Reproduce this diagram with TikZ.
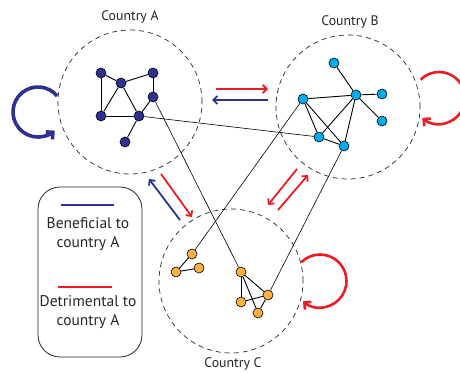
\documentclass[tikz,border=0pt]{standalone}
\usepackage{fontspec}
\setmainfont{PT Sans}
\usetikzlibrary{arrows.meta}
\definecolor{navyA}{RGB}{45,49,146}
\definecolor{cyanB}{RGB}{0,174,239}
\definecolor{orangeC}{RGB}{251,176,64}
\definecolor{redarr}{RGB}{237,28,36}
\tikzset{country/.style = {circle, draw=black!85, dash pattern=on 5pt off 4pt, line width=0.7pt, minimum size=144pt, inner sep=0pt}}
\tikzset{agent/.style = {circle, draw=black, line width=0.6pt, minimum size=10pt, inner sep=0pt}}
\tikzset{label text/.style = {font=\fontsize{13.8}{16}\selectfont, text=black!85}}
\tikzset{legend text/.style = {font=\fontsize{15.5}{19}\selectfont, text=black!85, align=center}}
\tikzset{good/.style = {navyA, line width=1.8pt, -{Straight Barb[length=4pt,width=8pt]}}}
\tikzset{bad/.style = {redarr, line width=1.8pt, -{Straight Barb[length=4pt,width=8pt]}}}
\tikzset{self loop/.style = {-{Straight Barb[length=5pt,width=10pt]}}}
\tikzset{tie/.style = {-, line width=0.6pt}}
\tikzset{inner tie/.style = {-, line width=0.9pt}}

\begin{document}
\begin{tikzpicture}[x=1pt,y=-1pt]
  \useasboundingbox (0,0) rectangle (460,372);

  % countries
  \node[country] (cA) at (130,102) {};
  \node[country] (cB) at (348,107) {};
  \node[country] (cC) at (231,281) {};
  \node[label text] (tA) at (130,17) {Country A};
  \node[label text] (tB) at (350,22) {Country B};
  \node[label text] (tC) at (233,364) {Country C};

  % agents of country A
  \node[agent, fill=navyA] (a1) at (101,73) {};
  \node[agent, fill=navyA] (a2) at (121,83) {};
  \node[agent, fill=navyA] (a3) at (153,73) {};
  \node[agent, fill=navyA] (a4) at (153,97) {};
  \node[agent, fill=navyA] (a5) at (101,116) {};
  \node[agent, fill=navyA] (a6) at (139,116) {};
  \node[agent, fill=navyA] (a7) at (125,142) {};

  % agents of country B
  \node[agent, fill=cyanB] (b1) at (334,63) {};
  \node[agent, fill=cyanB] (b2) at (303,99) {};
  \node[agent, fill=cyanB] (b3) at (356,95) {};
  \node[agent, fill=cyanB] (b4) at (382,94) {};
  \node[agent, fill=cyanB] (b5) at (382,121) {};
  \node[agent, fill=cyanB] (b6) at (319,137) {};
  \node[agent, fill=cyanB] (b7) at (344,146) {};

  % agents of country C
  \node[agent, fill=orangeC] (c1) at (192,254) {};
  \node[agent, fill=orangeC] (c2) at (176,272) {};
  \node[agent, fill=orangeC] (c3) at (199,268) {};
  \node[agent, fill=orangeC] (c4) at (241,272) {};
  \node[agent, fill=orangeC] (c5) at (241,302) {};
  \node[agent, fill=orangeC] (c6) at (268,295) {};
  \node[agent, fill=orangeC] (c7) at (258,313) {};

  % ties inside and across countries
  \path[inner tie] (a1) edge (a2) edge (a5)
    (a2) edge (a5) edge (a3) edge (a6)
    (a3) edge (a4)
    (a6) edge (a5) edge (a4) edge (a7);
  \path[inner tie] (b3) edge (b1) edge (b2) edge (b4) edge (b5) edge (b6) edge (b7)
    (b2) edge (b6) edge (b7)
    (b6) edge (b7);
  \path[inner tie] (c1) edge (c2)
    (c2) edge (c3)
    (c4) edge (c5) edge (c6) edge (c7)
    (c5) edge (c6)
    (c6) edge (c7);
  \path[tie] (a6) edge (b6)
    (a4) edge (c4)
    (c1) edge (b2)
    (c6) edge (b7);

  % flows between countries
  \coordinate (abS) at (216,89);  \coordinate (abE) at (268,89);
  \coordinate (baS) at (268,100); \coordinate (baE) at (212,100);
  \coordinate (caS) at (180,220); \coordinate (caE) at (149,179);
  \coordinate (acS) at (161,174); \coordinate (acE) at (192,217);
  \coordinate (bcS) at (297,169); \coordinate (bcE) at (268,205);
  \coordinate (cbS) at (278,210); \coordinate (cbE) at (308,175);
  \draw[bad] (abS) -- (abE);
  \draw[good] (baS) -- (baE);
  \draw[good] (caS) -- (caE);
  \draw[bad] (acS) -- (acE);
  \draw[bad] (bcS) -- (bcE);
  \draw[bad] (cbS) -- (cbE);

  % flows within countries
  \coordinate (loopA) at (38,112);
  \coordinate (loopB) at (439,98);
  \coordinate (loopC) at (320,281);
  \draw[good, self loop, line width=3.6pt] ([shift={(320:25)}]loopA) arc[start angle=320, end angle=48, radius=25];
  \draw[bad, self loop, line width=2.6pt] ([shift={(225:26)}]loopB) arc[start angle=225, end angle=490, radius=26];
  \draw[bad, self loop, line width=2.6pt] ([shift={(225:26.5)}]loopC) arc[start angle=225, end angle=490, radius=26.5];

  % legend
  \node[draw=black!85, line width=0.8pt, rounded corners=22pt, minimum width=104pt, minimum height=170pt] (legend) at (90,272) {};
  \coordinate (goodS) at (61,205); \coordinate (goodE) at (114,205);
  \coordinate (badS) at (58,287);  \coordinate (badE) at (112,287);
  \draw[navyA, line width=1.6pt] (goodS) -- (goodE);
  \draw[redarr, line width=1.6pt] (badS) -- (badE);
  \node[legend text] (goodT) at (88,234) {Beneficial to\\country A};
  \node[legend text] (badT) at (88,312) {Detrimental to\\country A};
\end{tikzpicture}
\end{document}
